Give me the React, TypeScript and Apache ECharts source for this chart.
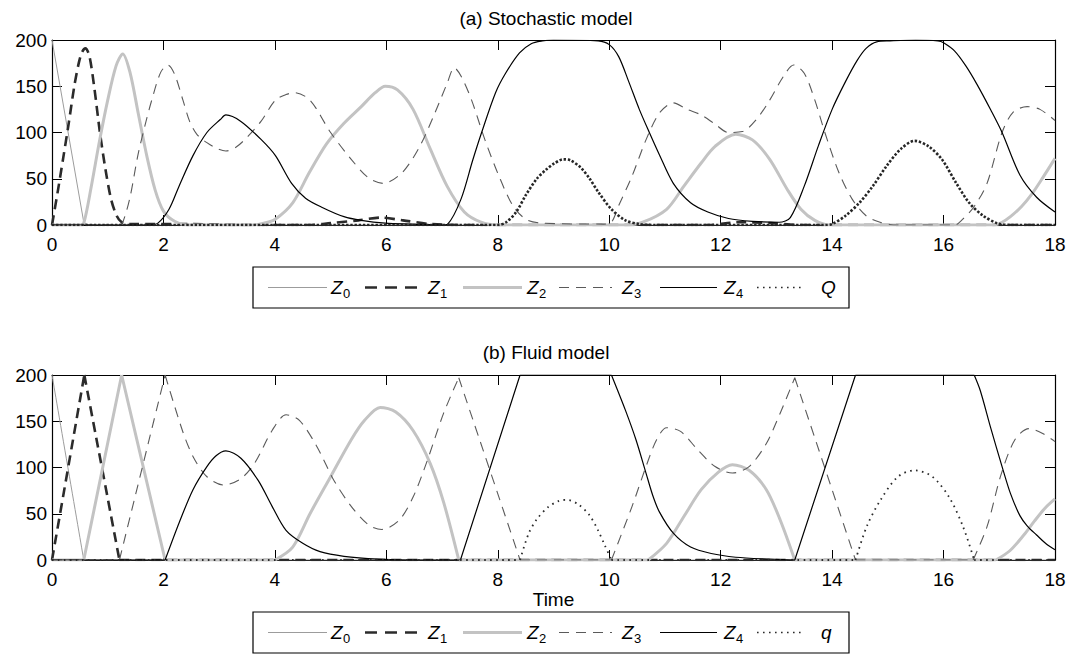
import React, { useEffect, useRef } from "react";
import * as echarts from "echarts";

type Pt = [number, number];

// Axis ranges: time in model units, number of customers per station
const timeRange = { min: 0, max: 18, step: 2 };
const countRange = { min: 0, max: 200, step: 50 };

// Legend symbols: Z with station subscript, and the extra quantity
const symbolMain = ["Z", "Z", "Z", "Z", "Z"];
const symbolSub = ["0", "1", "2", "3", "4"];
const stochExtra = "Q";
const fluidExtra = "q";
const panelTitles = ["(a) Stochastic model", "(b) Fluid model"];
const xAxisTitle = "Time";

// ---------- (a) Stochastic model: one simulated sample path ----------
const stochZ0: Pt[] = [[0, 200], [0.57, 3], [0.65, 0], [18, 0]];

const stochZ1: Pt[] = [
  [0, 0], [0.1, 35], [0.2, 72], [0.3, 110], [0.4, 150], [0.48, 175], [0.54, 187], [0.6, 191],
  [0.67, 183], [0.76, 148], [0.86, 100], [0.96, 60], [1.06, 28], [1.16, 10], [1.25, 3], [1.4, 1],
  [2.5, 1], [3.5, 0], [4.6, 0], [5.0, 2], [5.5, 5], [5.9, 8], [6.3, 5], [6.8, 1], [7.5, 0],
  [11.8, 0], [12.3, 3], [12.9, 2], [13.4, 0], [18, 0],
];

const stochZ2: Pt[] = [
  [0, 0], [0.5, 0], [0.57, 2], [0.7, 40], [0.85, 90], [1.0, 135], [1.15, 172], [1.27, 185],
  [1.4, 165], [1.55, 120], [1.7, 75], [1.85, 38], [2.0, 15], [2.2, 4], [2.45, 0], [3.6, 0],
  [3.8, 2], [4.0, 6], [4.32, 24], [4.62, 57], [4.93, 88], [5.24, 110], [5.55, 128], [5.8, 143],
  [5.98, 150], [6.2, 146], [6.48, 125], [6.79, 82], [7.09, 42], [7.4, 14], [7.7, 3], [8.0, 0],
  [10.3, 0], [10.6, 3], [11.03, 17], [11.34, 42], [11.65, 67], [11.9, 85], [12.27, 98],
  [12.57, 92], [12.88, 71], [13.19, 39], [13.44, 17], [13.69, 5], [13.95, 0], [16.9, 0],
  [17.05, 3], [17.2, 9], [17.4, 20], [17.58, 33], [17.79, 52], [18, 72],
];

const stochZ3: Pt[] = [
  [0, 0], [1.2, 0], [1.27, 3], [1.4, 30], [1.54, 75], [1.67, 108], [1.79, 135], [1.95, 165],
  [2.08, 173], [2.2, 163], [2.35, 135], [2.47, 112], [2.6, 98], [2.78, 89], [2.95, 83],
  [3.12, 80], [3.3, 84], [3.52, 96], [3.75, 112], [4.01, 135], [4.2, 141], [4.35, 143],
  [4.63, 135], [5.0, 100], [5.37, 71], [5.68, 51], [5.95, 45], [6.29, 57], [6.6, 85],
  [6.85, 118], [7.09, 153], [7.22, 170], [7.35, 160], [7.53, 135], [7.77, 92], [8.02, 53],
  [8.27, 21], [8.51, 6], [8.8, 2], [9.9, 1], [10.04, 3], [10.17, 21], [10.41, 53], [10.66, 92],
  [10.9, 121], [11.15, 132], [11.4, 125], [11.65, 119], [11.9, 109], [12.14, 100], [12.39, 101],
  [12.64, 114], [12.88, 135], [13.13, 161], [13.31, 173], [13.5, 164], [13.69, 135],
  [13.87, 100], [14.12, 57], [14.36, 28], [14.61, 10], [14.86, 3], [15.1, 0], [16.2, 0],
  [16.34, 6], [16.55, 20], [16.78, 45], [17.05, 100], [17.25, 122], [17.5, 128], [17.73, 125],
  [18, 113],
];

const stochZ4: Pt[] = [
  [0, 0], [1.75, 0], [1.9, 2], [2.1, 17], [2.28, 42], [2.53, 75], [2.78, 100], [3.02, 114],
  [3.12, 119], [3.39, 112], [3.76, 92], [4.01, 75], [4.3, 45], [4.55, 29], [4.85, 19],
  [5.24, 9], [5.55, 5], [5.98, 2], [6.48, 1], [7.0, 0], [7.1, 1], [7.34, 28], [7.55, 70],
  [7.71, 100], [7.96, 143], [8.14, 164], [8.39, 186], [8.6, 196], [8.8, 199], [9.0, 200],
  [9.8, 199], [10.0, 195], [10.17, 182], [10.35, 155], [10.54, 125], [10.72, 100], [10.9, 76],
  [11.15, 45], [11.46, 24], [11.77, 14], [12.14, 7], [12.57, 4], [13.05, 3], [13.25, 8],
  [13.5, 42], [13.75, 85], [14.0, 125], [14.24, 155], [14.45, 178], [14.61, 191], [14.8, 198],
  [15.04, 199], [15.5, 200], [15.9, 199], [16.0, 197], [16.2, 188], [16.4, 172], [16.6, 152],
  [16.85, 124], [17.05, 100], [17.37, 54], [17.67, 30], [18, 14],
];

const stochQ: Pt[] = [
  [0, 0], [8.0, 0], [8.15, 3], [8.33, 14], [8.5, 32], [8.7, 50], [8.87, 60], [9.0, 66],
  [9.18, 71], [9.3, 70], [9.49, 62], [9.65, 50], [9.8, 36], [10.04, 17], [10.29, 5],
  [10.54, 1], [10.8, 0], [13.9, 0], [14.0, 1], [14.24, 10], [14.49, 24], [14.73, 42],
  [14.98, 64], [15.23, 82], [15.48, 91], [15.73, 85], [15.97, 71], [16.22, 46], [16.46, 24],
  [16.71, 10], [16.96, 2], [17.2, 0], [18, 0],
];

// ---------- (b) Fluid model: piecewise trajectories, kinks fall between pieces ----------
const fluidZ0: Pt[][] = [
  [[0, 200], [0.57, 0]],
  [[0.57, 0], [18, 0]],
];

const fluidZ1: Pt[][] = [
  [[0, 0], [0.58, 200]],
  [[0.58, 200], [1.21, 0]],
  [[1.21, 0], [18, 0]],
];

const fluidZ2: Pt[][] = [
  [[0, 0], [0.57, 0]],
  [[0.57, 0], [1.25, 200]],
  [[1.25, 200], [2.03, 0]],
  [[2.03, 0], [4.0, 0]],
  [[4.0, 0], [4.32, 14], [4.63, 50], [5.0, 90], [5.37, 130], [5.61, 151], [5.89, 165],
    [6.17, 160], [6.48, 140], [6.79, 104], [7.03, 62], [7.3, 0]],
  [[7.3, 0], [10.7, 0]],
  [[10.7, 0], [11.03, 18], [11.34, 47], [11.65, 76], [11.96, 95], [12.21, 103], [12.51, 97],
    [12.82, 76], [13.07, 43], [13.33, 0]],
  [[13.33, 0], [16.94, 0]],
  [[16.94, 0], [17.19, 10], [17.44, 27], [17.63, 42], [17.82, 56], [18, 66]],
];

const fluidZ3: Pt[][] = [
  [[0, 0], [1.21, 0]],
  [[1.21, 0], [2.03, 200]],
  [[2.03, 200], [2.34, 140], [2.53, 112], [2.78, 90], [3.08, 81], [3.39, 88], [3.64, 105],
    [3.95, 140], [4.2, 157], [4.44, 151], [4.75, 123], [5.06, 86], [5.37, 58], [5.68, 38],
    [5.92, 33], [6.23, 43], [6.48, 68], [6.72, 105], [7.03, 159], [7.3, 197]],
  [[7.3, 197], [8.4, 0]],
  [[8.4, 0], [10.04, 0]],
  [[10.04, 0], [10.41, 58], [10.66, 101], [10.85, 130], [11.03, 143], [11.28, 139],
    [11.59, 119], [11.9, 101], [12.21, 94], [12.51, 101], [12.82, 126], [13.07, 159], [13.33, 197]],
  [[13.33, 197], [14.42, 0]],
  [[14.42, 0], [16.53, 0]],
  [[16.53, 0], [16.78, 36], [17.03, 92], [17.28, 130], [17.53, 142], [17.77, 137], [18, 128]],
];

const fluidZ4: Pt[][] = [
  [[0, 0], [2.03, 0]],
  [[2.03, 0], [2.28, 40], [2.53, 76], [2.78, 101], [2.95, 113], [3.12, 118], [3.39, 110],
    [3.7, 86], [3.95, 58], [4.2, 32], [4.5, 18], [4.81, 9], [5.24, 4], [5.86, 1], [6.5, 0], [7.33, 0]],
  [[7.33, 0], [8.4, 200]],
  [[8.4, 200], [10.04, 200]],
  [[10.04, 200], [10.29, 162], [10.48, 130], [10.66, 94], [10.78, 70], [10.9, 52], [11.15, 29],
    [11.46, 14], [11.83, 7], [12.27, 3], [12.88, 1], [13.33, 0]],
  [[13.33, 0], [14.42, 200]],
  [[14.42, 200], [16.55, 200]],
  [[16.55, 200], [16.66, 183], [16.85, 142], [17.05, 101], [17.2, 72], [17.37, 48], [17.5, 37],
    [17.67, 27], [17.85, 17], [18, 11]],
];

const fluidQ: Pt[][] = [
  [[0, 0], [8.4, 0]],
  [[8.4, 0], [8.55, 28], [8.7, 44], [8.9, 57], [9.1, 64], [9.25, 65], [9.45, 60], [9.65, 48],
    [9.8, 32], [9.92, 16], [10.04, 0]],
  [[10.04, 0], [14.42, 0]],
  [[14.42, 0], [14.62, 36], [14.87, 65], [15.18, 90], [15.48, 97], [15.8, 90], [16.1, 68],
    [16.35, 36], [16.55, 0]],
  [[16.55, 0], [18, 0]],
];

// ---------- drawing ----------
const FONT = '"Liberation Sans", Arial, Helvetica, sans-serif';
const LABEL_SIZE = 19;
const TITLE_SIZE = 19;

type Look = { color: string; width: number; dash: "solid" | number[] };
const stochLooks: Look[] = [
  { color: "#9c9c9c", width: 1, dash: "solid" },
  { color: "#2b2b2b", width: 2.6, dash: [10, 6] },
  { color: "#c3c3c3", width: 3, dash: "solid" },
  { color: "#5a5a5a", width: 1.1, dash: [10, 7] },
  { color: "#000000", width: 1.2, dash: "solid" },
  { color: "#262626", width: 2.6, dash: [2.4, 1.8] },
];
const fluidLooks: Look[] = stochLooks.map((l, i) =>
  i === 5 ? { color: "#2b2b2b", width: 1.8, dash: [1.6, 4.4] } : l
);
const legendLooks: Look[] = stochLooks.map((l, i) =>
  i === 5 ? { color: "#2b2b2b", width: 1.6, dash: [1.6, 4.4] } : i === 1 ? { ...l, dash: [12, 8] } : l
);

// pieces are joined with a null break so each kink stays sharp under smoothing
function joinPieces(pieces: Pt[][]): [number, number | null][] {
  const out: [number, number | null][] = [];
  pieces.forEach((p, i) => {
    if (i > 0) out.push([p[0][0], null]);
    p.forEach((pt) => out.push(pt));
  });
  return out;
}

const GRID_LEFT = 52;
const GRID_W = 1003;
const GRID_H = 185;
const GRID_TOPS = [40, 375];

function xAxisFor(grid: number, pos: "bottom" | "top", withLabels: boolean, name?: string) {
  return {
    type: "value",
    gridIndex: grid,
    position: pos,
    min: timeRange.min,
    max: timeRange.max,
    interval: timeRange.step,
    axisLine: { show: true, onZero: false, lineStyle: { color: "#000", width: 1.2 } },
    axisTick: { show: true, inside: true, length: 10, lineStyle: { color: "#000", width: 1 } },
    axisLabel: {
      show: withLabels, margin: 10, color: "#000", fontSize: LABEL_SIZE, fontFamily: FONT,
      showMinLabel: true, showMaxLabel: true,
    },
    splitLine: { show: false },
    name: name ?? "",
    nameLocation: "middle",
    nameGap: 30,
    nameTextStyle: { color: "#000", fontSize: LABEL_SIZE, fontFamily: FONT },
  };
}

function yAxisFor(grid: number, pos: "left" | "right", withLabels: boolean) {
  return {
    type: "value",
    gridIndex: grid,
    position: pos,
    min: countRange.min,
    max: countRange.max,
    interval: countRange.step,
    axisLine: { show: true, onZero: false, lineStyle: { color: "#000", width: 1.2 } },
    axisTick: { show: true, inside: true, length: 10, lineStyle: { color: "#000", width: 1 } },
    axisLabel: {
      show: withLabels, margin: 5, color: "#000", fontSize: LABEL_SIZE, fontFamily: FONT,
      showMinLabel: true, showMaxLabel: true,
    },
    splitLine: { show: false },
  };
}

// legend layout (box and item positions in pixels)
const LEG_BOX_X = 253;
const LEG_BOX_W = 596;
const LEG_BOX_H = 41;
const LEG_TOPS = [267, 612];
const LEG_LINE_X0 = [268, 365, 463, 559, 660, 757];
const LEG_LINE_X1 = [327, 419, 522, 612, 717, 801];
const LEG_TEXT_X = [331, 428, 527, 622, 724, 821];

function textEl(x: number, y: number, text: string, font: string, align = "left") {
  return {
    type: "text",
    x,
    y,
    silent: true,
    style: {
      text,
      fill: "#000",
      font,
      align,
      verticalAlign: "middle",
      textAlign: align,
      textVerticalAlign: "middle",
    },
  };
}

function legendGroup(top: number, extra: string) {
  const cy = top + LEG_BOX_H / 2;
  const children: any[] = [
    {
      type: "rect",
      shape: { x: LEG_BOX_X, y: top, width: LEG_BOX_W, height: LEG_BOX_H },
      style: { fill: "#fff", stroke: "#000", lineWidth: 1.2 },
      silent: true,
    },
  ];
  legendLooks.forEach((look, i) => {
    children.push({
      type: "line",
      silent: true,
      shape: { x1: LEG_LINE_X0[i], y1: cy, x2: LEG_LINE_X1[i], y2: cy },
      style: {
        stroke: look.color,
        lineWidth: look.width,
        lineDash: look.dash === "solid" ? null : look.dash,
      },
    });
    const main = i < 5 ? symbolMain[i] : extra;
    children.push(textEl(LEG_TEXT_X[i], cy, main, `italic 19px ${FONT}`));
    if (i < 5) children.push(textEl(LEG_TEXT_X[i] + 12, cy + 6, symbolSub[i], `13px ${FONT}`));
  });
  return { type: "group", children };
}

function buildOption() {
  const stochSets = [stochZ0, stochZ1, stochZ2, stochZ3, stochZ4, stochQ];
  const fluidSets = [fluidZ0, fluidZ1, fluidZ2, fluidZ3, fluidZ4, fluidQ].map(joinPieces);
  const names = symbolSub.map((s) => "Z" + s);

  const makeSeries = (data: any[], look: Look, i: number, axis: number, smooth: number | false, name: string) => ({
    type: "line",
    name,
    xAxisIndex: axis,
    yAxisIndex: axis,
    data,
    showSymbol: false,
    symbol: "none",
    smooth,
    connectNulls: false,
    silent: true,
    z: 2 + i,
    lineStyle: { color: look.color, width: look.width, type: look.dash, cap: "butt", join: "round" },
  });

  const series = [
    ...stochSets.map((d, i) =>
      makeSeries(d, stochLooks[i], i, 0, i === 0 ? false : 0.3, i < 5 ? names[i] : stochExtra)
    ),
    ...fluidSets.map((d, i) =>
      makeSeries(d, fluidLooks[i], i, 2, 0.3, i < 5 ? names[i] : fluidExtra)
    ),
  ];

  return {
    animation: false,
    backgroundColor: "#fff",
    grid: GRID_TOPS.map((t) => ({ left: GRID_LEFT, top: t, width: GRID_W, height: GRID_H, containLabel: false })),
    xAxis: [
      xAxisFor(0, "bottom", true),
      xAxisFor(0, "top", false),
      xAxisFor(1, "bottom", true, xAxisTitle),
      xAxisFor(1, "top", false),
    ],
    yAxis: [
      yAxisFor(0, "left", true),
      yAxisFor(0, "right", false),
      yAxisFor(1, "left", true),
      yAxisFor(1, "right", false),
    ],
    series,
    graphic: [
      textEl(546, 18, panelTitles[0], `${TITLE_SIZE}px ${FONT}`, "center"),
      textEl(546, 352, panelTitles[1], `${TITLE_SIZE}px ${FONT}`, "center"),
      legendGroup(LEG_TOPS[0], stochExtra),
      legendGroup(LEG_TOPS[1], fluidExtra),
    ],
  };
}

export default function App() {
  const ref = useRef<HTMLDivElement>(null);
  useEffect(() => {
    if (!ref.current) return;
    const chart = echarts.init(ref.current, undefined, { renderer: "svg" });
    chart.setOption(buildOption() as any);
    return () => chart.dispose();
  }, []);
  return (
    <div
      ref={ref}
      style={{ position: "fixed", left: 0, top: 0, width: 1070, height: 664, background: "#fff" }}
    />
  );
}
